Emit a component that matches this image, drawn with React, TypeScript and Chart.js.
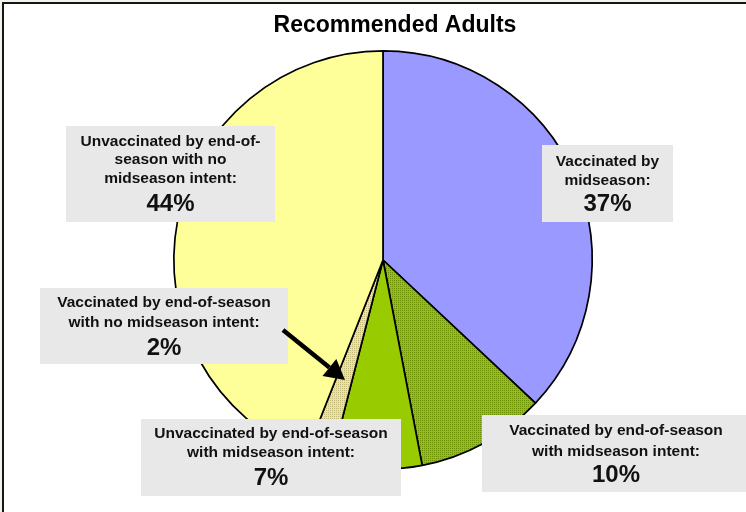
import React, { useEffect, useRef } from "react";
import { Chart, registerables } from "chart.js";

Chart.register(...registerables);

// ---- data ----
const TITLE = "Recommended Adults";
const CATEGORIES = [
  "Vaccinated by midseason",
  "Vaccinated by end-of-season with midseason intent",
  "Unvaccinated by end-of-season with midseason intent",
  "Vaccinated by end-of-season with no midseason intent",
  "Unvaccinated by end-of-season with no midseason intent",
];
const VALUES = [37, 10, 7, 2, 44];
const LABEL_LINES = [
  ["Vaccinated by", "midseason:"],
  ["Vaccinated by end-of-season", "with midseason intent:"],
  ["Unvaccinated by end-of-season", "with midseason intent:"],
  ["Vaccinated by end-of-season", "with no midseason intent:"],
  ["Unvaccinated by end-of-", "season with no", "midseason intent:"],
];

// ---- layout / style (not data) ----
const FONT = "'Liberation Sans', Arial, Helvetica, sans-serif";
const BOXES = [
  { x: 542, y: 145, w: 131, h: 77, lineY: [162, 181], pctY: 204 },
  { x: 482, y: 415, w: 268, h: 77, lineY: [431, 452], pctY: 475 },
  { x: 141, y: 419, w: 260, h: 77, lineY: [434, 453], pctY: 478 },
  { x: 40, y: 288, w: 248, h: 76, lineY: [303, 323], pctY: 348 },
  { x: 66, y: 126, w: 209, h: 96, lineY: [142, 160, 179], pctY: 204 },
];

function makePattern(base: string, dot: string) {
  const c = document.createElement("canvas");
  c.width = 2;
  c.height = 2;
  const g = c.getContext("2d")!;
  g.fillStyle = base;
  g.fillRect(0, 0, 2, 2);
  g.fillStyle = dot;
  g.fillRect(0, 0, 1, 1);
  return g.createPattern(c, "repeat")!;
}

const overlay = {
  id: "overlay",
  beforeDraw(chart: any) {
    const ctx = chart.ctx as CanvasRenderingContext2D;
    const W = chart.width, H = chart.height;
    ctx.save();
    ctx.fillStyle = "#F3F1EA";
    ctx.fillRect(0, 0, W, H);
    ctx.fillStyle = "#ffffff";
    ctx.fillRect(2, 2, W, H);
    ctx.fillStyle = "#151515";
    ctx.fillRect(2, 2, 2, H);
    ctx.fillRect(2, 2, W, 2);
    ctx.restore();
  },
  afterDraw(chart: any) {
    const ctx = chart.ctx as CanvasRenderingContext2D;
    ctx.save();
    ctx.fillStyle = "#000";
    ctx.textAlign = "center";
    ctx.textBaseline = "middle";
    ctx.font = `bold 23px ${FONT}`;
    ctx.fillText(TITLE, 395, 26);

    BOXES.forEach((b, i) => {
      ctx.fillStyle = "#E8E8E8";
      ctx.fillRect(b.x, b.y, b.w, b.h);
      ctx.fillStyle = "#111";
      const cx = b.x + b.w / 2;
      ctx.font = `bold 15.5px ${FONT}`;
      LABEL_LINES[i].forEach((t, k) => ctx.fillText(t, cx, b.lineY[k]));
      ctx.font = `bold 24px ${FONT}`;
      ctx.fillText(`${VALUES[i]}%`, cx, b.pctY);
    });

    // arrow pointing to the small slice
    const x0 = 283, y0 = 330, x1 = 345, y1 = 380;
    const ang = Math.atan2(y1 - y0, x1 - x0);
    const headL = 20, headW = 11;
    const bx = x1 - headL * Math.cos(ang), by = y1 - headL * Math.sin(ang);
    ctx.strokeStyle = "#000";
    ctx.lineWidth = 4.5;
    ctx.beginPath();
    ctx.moveTo(x0, y0);
    ctx.lineTo(bx, by);
    ctx.stroke();
    ctx.fillStyle = "#000";
    ctx.beginPath();
    ctx.moveTo(x1, y1);
    ctx.lineTo(bx + headW * Math.sin(ang), by - headW * Math.cos(ang));
    ctx.lineTo(bx - headW * Math.sin(ang), by + headW * Math.cos(ang));
    ctx.closePath();
    ctx.fill();
    ctx.restore();
  },
};

export default function App() {
  const ref = useRef<HTMLCanvasElement>(null);
  useEffect(() => {
    if (!ref.current) return;
    const colors = [
      "#9999FF",
      makePattern("#92C400", "#6A9000"),
      "#99CC00",
      makePattern("#EAE4A0", "#C2B878"),
      "#FFFF99",
    ];
    const chart = new Chart(ref.current, {
      type: "pie",
      data: {
        labels: CATEGORIES,
        datasets: [
          {
            data: VALUES,
            backgroundColor: colors as any,
            borderColor: "#000",
            borderWidth: 1.7,
          },
        ],
      },
      options: {
        animation: false,
        responsive: false,
        layout: { padding: { top: 50, left: 173, right: 153, bottom: 42 } },
        plugins: {
          legend: { display: false },
          title: { display: false },
          tooltip: { enabled: false },
        },
      },
      plugins: [overlay],
    });
    return () => chart.destroy();
  }, []);
  return (
    <div style={{ position: "fixed", left: 0, top: 0, width: 746, height: 512 }}>
      <canvas ref={ref} width={746} height={512} style={{ display: "block", width: 746, height: 512 }} />
    </div>
  );
}
